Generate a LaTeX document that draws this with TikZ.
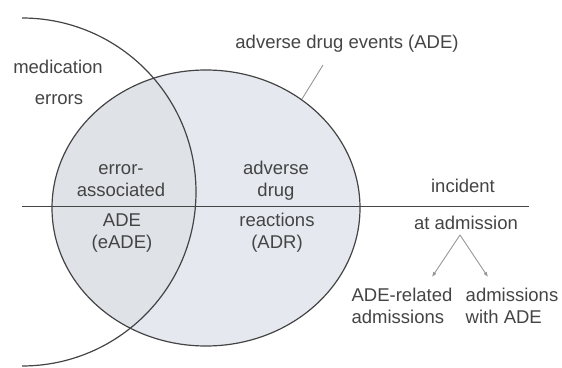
\documentclass[tikz,border=0pt]{standalone}
\usepackage{fontspec}
\setmainfont{Liberation Sans}
\usetikzlibrary{arrows.meta}
\definecolor{evfill}{RGB}{229,233,239}
\definecolor{lensfill}{RGB}{223,226,231}
\definecolor{inkgray}{RGB}{68,68,68}
\definecolor{softgray}{RGB}{150,150,150}

\begin{document}
\begin{tikzpicture}[x=1pt,y=1pt,
  lbl/.style={font=\fontsize{18.5}{22}\selectfont, text=inkgray, align=center, inner sep=0pt},
  outline/.style={draw=inkgray, line width=1.2pt}]
\useasboundingbox (0,0) rectangle (562,367);
% ADE ellipse, lens shared with the medication errors circle
\fill[evfill] (206,159) ellipse [x radius=154, y radius=138];
\begin{scope}
\clip (22,175) circle (174);
\fill[lensfill] (206,159) ellipse [x radius=154, y radius=138];
\end{scope}
\draw[outline] (206,159) ellipse [x radius=154, y radius=138];
\draw[outline] (22,349) arc [start angle=90, end angle=-90, radius=174];
\draw[inkgray, line width=1pt] (22,160) -- (529,160);

\node[lbl] (medic) at (58,300) {medication};
\node[lbl] (errs) at (59,267) {errors};
\node[lbl] (evADE) at (347,323) {adverse drug events (ADE)};
\node[lbl] (errAssoc) at (121,186) {error-\\associated};
\node[lbl] (eADE) at (122,134) {ADE\\(eADE)};
\node[lbl] (advDrug) at (276,186) {adverse\\drug};
\node[lbl] (ADR) at (277,134) {reactions\\(ADR)};
\node[lbl] (incid) at (463,181) {incident};
\node[lbl] (atAdm) at (466,144) {at admission};
\node[lbl, align=left] (relADE) at (402,61) {ADE-related\\admissions};
\node[lbl, align=left] (withADE) at (512,61) {admissions\\with ADE};

\coordinate (ptrA) at (302,268);
\coordinate (ptrB) at (323,302);
\draw[softgray, line width=0.9pt] (ptrA) -- (ptrB);

\coordinate (fork) at ([xshift=-6pt,yshift=-5pt]atAdm.south);
\coordinate (tipL) at (432,90);
\coordinate (tipR) at (488,90);
\draw[-{Latex[length=5pt,width=4pt]}, softgray, line width=0.9pt] (fork) -- (tipL);
\draw[-{Latex[length=5pt,width=4pt]}, softgray, line width=0.9pt] (fork) -- (tipR);
\end{tikzpicture}
\end{document}
